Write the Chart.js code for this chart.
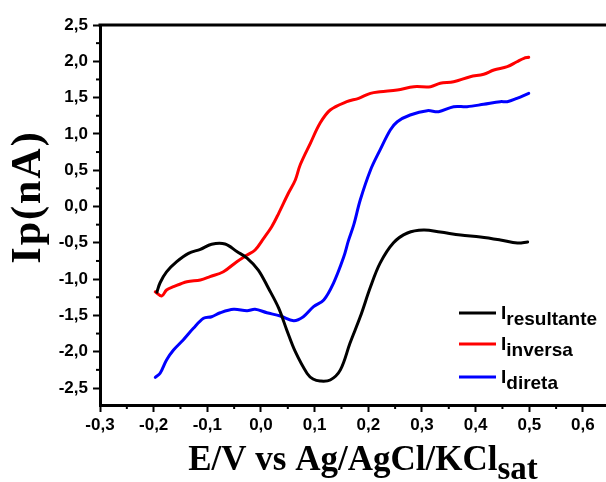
<!DOCTYPE html>
<html>
<head>
<meta charset="utf-8">
<script src="https://cdn.jsdelivr.net/npm/chart.js@4/dist/chart.umd.min.js"></script>
<style>
html,body{margin:0;padding:0;background:#fff;}
#c{display:block;}
</style>
</head>
<body>
<canvas id="c" width="606" height="482"></canvas>
<script>
// ---- data (E in V, I in nA) ----
const resultanteE = [-0.194,-0.188,-0.176,-0.157,-0.135,-0.113,-0.092,-0.067,-0.045,-0.026,-0.005,0.014,0.033,0.048,0.064,0.086,0.097,0.110,0.129,0.148,0.166,0.185,0.204,0.222,0.247,0.273,0.303,0.334,0.372,0.409,0.446,0.478,0.497];
const resultanteI = [-1.18,-1.05,-0.90,-0.76,-0.645,-0.59,-0.52,-0.517,-0.62,-0.71,-0.875,-1.127,-1.40,-1.70,-2.00,-2.30,-2.376,-2.404,-2.39,-2.25,-1.88,-1.52,-1.11,-0.78,-0.50,-0.365,-0.324,-0.351,-0.393,-0.42,-0.461,-0.503,-0.489];

const inversaE = [-0.197,-0.185,-0.176,-0.163,-0.138,-0.113,-0.095,-0.070,-0.045,-0.026,-0.011,0.005,0.020,0.033,0.051,0.064,0.073,0.092,0.110,0.129,0.160,0.182,0.204,0.222,0.254,0.285,0.316,0.334,0.359,0.390,0.415,0.434,0.459,0.477,0.490,0.499];
const inversaI = [-1.174,-1.233,-1.15,-1.105,-1.036,-1.012,-0.967,-0.898,-0.76,-0.668,-0.599,-0.438,-0.278,-0.094,0.182,0.365,0.572,0.87,1.146,1.329,1.444,1.49,1.559,1.581,1.605,1.65,1.65,1.697,1.719,1.788,1.821,1.88,1.926,1.994,2.041,2.055];

const diretaE = [-0.197,-0.188,-0.176,-0.163,-0.145,-0.126,-0.107,-0.092,-0.076,-0.051,-0.026,-0.011,0.011,0.036,0.061,0.079,0.098,0.117,0.135,0.154,0.163,0.173,0.185,0.204,0.222,0.241,0.254,0.278,0.310,0.331,0.359,0.384,0.415,0.446,0.459,0.477,0.499];
const diretaI = [-2.353,-2.297,-2.114,-1.977,-1.839,-1.678,-1.54,-1.518,-1.463,-1.416,-1.435,-1.416,-1.463,-1.508,-1.573,-1.518,-1.38,-1.288,-1.058,-0.70,-0.47,-0.25,0.09,0.50,0.78,1.054,1.168,1.26,1.32,1.306,1.375,1.375,1.408,1.444,1.444,1.49,1.559];

const xTicks = [-0.3,-0.2,-0.1,0.0,0.1,0.2,0.3,0.4,0.5,0.6];
const yTicks = [-2.5,-2.0,-1.5,-1.0,-0.5,0.0,0.5,1.0,1.5,2.0,2.5];

const seriesNames = ['resultante','inversa','direta'];
const seriesColors = ['#000000','#ff0000','#0000ff'];
const xTitle = 'E/V vs Ag/AgCl/KCl';
const xTitleSub = 'sat';
const yTitle = 'Ip(nA)';

function toPts(xs, ys){ return xs.map((x,i)=>({x:x,y:ys[i]})); }
const fmt = (v)=> v.toFixed(1).replace('.',',');
const tickFont = {family:'"Liberation Sans", Arial, sans-serif', size:17, weight:'bold'};

const decor = {
  id:'decor',
  afterDraw(chart){
    const ctx = chart.ctx, a = chart.chartArea;
    const xs = chart.scales.x, ys = chart.scales.y;
    ctx.save();
    // top frame line
    ctx.strokeStyle='#000'; ctx.lineWidth=3;
    ctx.beginPath(); ctx.moveTo(a.left-1.5, a.top); ctx.lineTo(a.right, a.top); ctx.stroke();
    // minor ticks
    ctx.lineWidth=2;
    for(let i=0;i<yTicks.length-1;i++){
      const v=(yTicks[i]+yTicks[i+1])/2, p=ys.getPixelForValue(v);
      ctx.beginPath(); ctx.moveTo(a.left-4, p); ctx.lineTo(a.left, p); ctx.stroke();
    }
    for(let i=0;i<xTicks.length-1;i++){
      const v=(xTicks[i]+xTicks[i+1])/2, p=xs.getPixelForValue(v);
      ctx.beginPath(); ctx.moveTo(p, a.bottom); ctx.lineTo(p, a.bottom+4); ctx.stroke();
    }
    // axis titles
    ctx.fillStyle='#000';
    const mainF='bold 35px "Liberation Serif", "Times New Roman", serif';
    const subF='bold 33px "Liberation Serif", "Times New Roman", serif';
    ctx.textBaseline='alphabetic'; ctx.textAlign='left';
    ctx.font=mainF; const w1 = ctx.measureText(xTitle).width;
    ctx.font=subF; const w2 = ctx.measureText(xTitleSub).width;
    const cx = 363;
    const sx = cx - (w1+w2)/2;
    ctx.font=mainF; ctx.fillText(xTitle, sx, 470);
    ctx.font=subF; ctx.fillText(xTitleSub, sx+w1, 479);
    // y title
    ctx.save();
    ctx.translate(40, 197);
    ctx.rotate(-Math.PI/2);
    ctx.font='bold 42px "Liberation Serif", "Times New Roman", serif';
    ctx.textAlign='center';
    if ('letterSpacing' in ctx) ctx.letterSpacing='2px';
    ctx.fillText(yTitle, 0, 0);
    ctx.restore();
    // legend
    const rows=[313,344,377];
    for(let i=0;i<3;i++){
      const y=rows[i];
      ctx.strokeStyle=seriesColors[i]; ctx.lineWidth=3;
      ctx.beginPath(); ctx.moveTo(459,y); ctx.lineTo(496,y); ctx.stroke();
      ctx.fillStyle='#000';
      ctx.font='bold 19px "Liberation Sans", Arial, sans-serif';
      ctx.textAlign='left';
      ctx.fillText('I', 501, y+6);
      const wI = ctx.measureText('I').width;
      ctx.fillText(seriesNames[i], 501+wI, y+12);
    }
    ctx.restore();
  }
};

new Chart(document.getElementById('c'), {
  type:'scatter',
  data:{
    datasets:[
      {label:seriesNames[0], data:toPts(resultanteE,resultanteI), borderColor:seriesColors[0]},
      {label:seriesNames[1], data:toPts(inversaE,inversaI), borderColor:seriesColors[1]},
      {label:seriesNames[2], data:toPts(diretaE,diretaI), borderColor:seriesColors[2]}
    ].map(d=>Object.assign(d,{showLine:true, borderWidth:3, pointRadius:0, tension:0.35, fill:false, borderCapStyle:'round', borderJoinStyle:'round'}))
  },
  options:{
    responsive:false, animation:false, devicePixelRatio:1,
    layout:{padding:{top:25,right:0,left:0,bottom:0}},
    plugins:{legend:{display:false}, tooltip:{enabled:false}},
    scales:{
      x:{
        type:'linear', position:'bottom', min:-0.3, max:0.643,
        afterBuildTicks:(s)=>{ s.ticks = xTicks.map(v=>({value:v})); },
        afterFit:(s)=>{ s.height = 77; },
        ticks:{callback:(v)=>fmt(v), font:tickFont, color:'#000', padding:3, maxRotation:0, autoSkip:false},
        grid:{drawOnChartArea:false, drawTicks:true, tickLength:7, tickWidth:2, tickColor:'#000'},
        border:{display:true, color:'#000', width:3}
      },
      y:{
        type:'linear', position:'left', min:-2.734, max:2.5,
        afterBuildTicks:(s)=>{ s.ticks = yTicks.map(v=>({value:v})); },
        afterFit:(s)=>{ s.width = 100; },
        ticks:{callback:(v)=>fmt(v), font:tickFont, color:'#000', padding:5, autoSkip:false},
        grid:{drawOnChartArea:false, drawTicks:true, tickLength:7, tickWidth:2, tickColor:'#000'},
        border:{display:true, color:'#000', width:3}
      }
    }
  },
  plugins:[decor]
});
</script>
</body>
</html>
